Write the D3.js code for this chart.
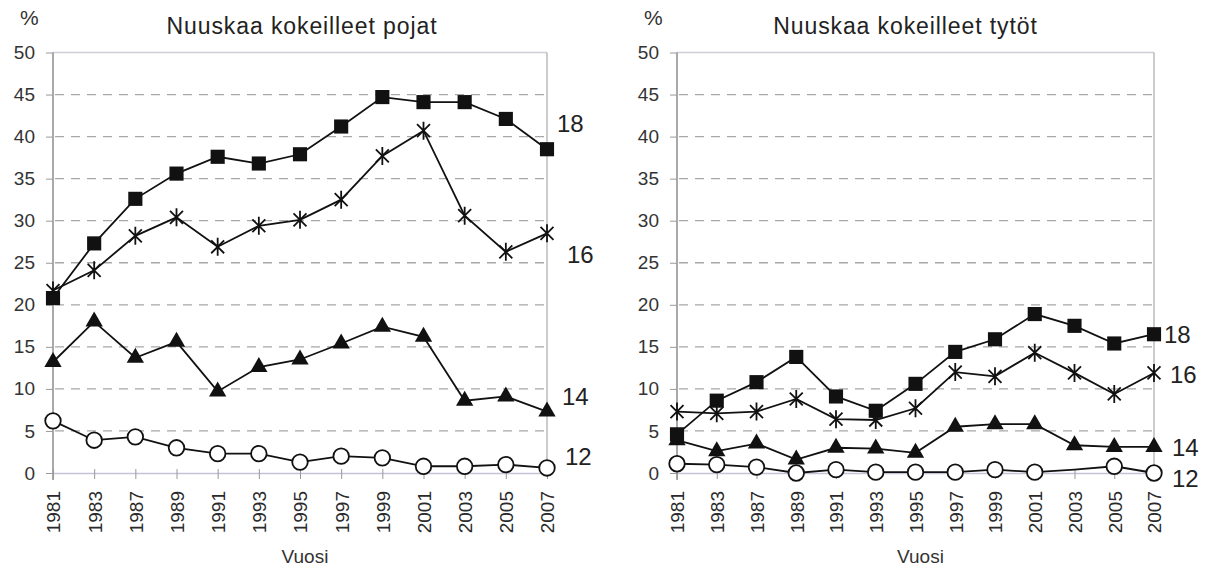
<!DOCTYPE html>
<html><head><meta charset="utf-8">
<script src="https://cdn.jsdelivr.net/npm/d3@7"></script>
<style>
body{margin:0;background:#fff;}
svg{display:block;font-family:"Liberation Sans",Arial,sans-serif;}
</style></head>
<body>
<svg id="chart" width="1212" height="574"></svg>
<script>
// ---- data ----
const years = ["1981","1983","1987","1989","1991","1993","1995","1997","1999","2001","2003","2005","2007"];
const yTicks = [0,5,10,15,20,25,30,35,40,45,50];
const seriesNames = ["18","16","14","12"];

const boys18 = [20.8,27.3,32.6,35.6,37.6,36.8,37.9,41.2,44.7,44.1,44.1,42.1,38.5];
const boys16 = [21.7,24.1,28.2,30.4,26.9,29.4,30.1,32.5,37.7,40.7,30.6,26.3,28.5];
const boys14 = [13.2,18.0,13.7,15.6,9.7,12.6,13.5,15.4,17.4,16.2,8.6,9.1,7.3];
const boys12 = [6.2,3.9,4.3,3.0,2.3,2.3,1.3,2.0,1.8,0.8,0.8,1.0,0.6];

const girls18 = [4.6,8.6,10.8,13.8,9.1,7.4,10.6,14.4,15.9,18.9,17.5,15.4,16.5];
const girls16 = [7.3,7.1,7.3,8.8,6.4,6.3,7.7,12.0,11.5,14.3,11.9,9.4,11.9];
const girls14 = [3.9,2.6,3.5,1.6,3.0,2.9,2.4,5.5,5.8,5.8,3.3,3.1,3.1];
const girls12 = [1.1,1.0,0.7,0.0,0.4,0.1,0.1,0.1,0.4,0.1,0.4,0.8,0.0];
const girls12NoMarker = ["2003"];

const panels = [
  {title:"Nuuskaa kokeilleet pojat", xAxisLabel:"Vuosi", unit:"%",
   series:[boys18,boys16,boys14,boys12], noMarker:[[],[],[],[]],
   x0:53, x1:547,
   labelPos:[[557,132],[567,263],[562,405],[565,465]]},
  {title:"Nuuskaa kokeilleet tytöt", xAxisLabel:"Vuosi", unit:"%",
   series:[girls18,girls16,girls14,girls12], noMarker:[[],[],[],girls12NoMarker],
   x0:677, x1:1154,
   labelPos:[[1164,343],[1170,383],[1172,456],[1172,487]]}
];

const svg = d3.select("#chart");
const yTop = 52.5, yBot = 473;
const markerTypes = ["square","star","triangle","circle"];

function starPath(s){
  const r = s/2, d = r*0.72;
  return `M0,${-r}L0,${r}M${-d},${-d}L${d},${d}M${-d},${d}L${d},${-d}`;
}

panels.forEach(p => {
  const g = svg.append("g");
  const x = d3.scalePoint().domain(years).range([p.x0, p.x1]).padding(0);
  const y = d3.scaleLinear().domain([0,50]).range([yBot, yTop]);

  // gridlines
  g.append("g").selectAll("line").data(yTicks.filter(t => t>0 && t<50)).join("line")
    .attr("x1", p.x0+2).attr("x2", p.x1)
    .attr("y1", d=>y(d)).attr("y2", d=>y(d))
    .attr("stroke","#a8a8a8").attr("stroke-width",1.3).attr("stroke-dasharray","9,7");
  // top border
  g.append("line").attr("x1",p.x0).attr("x2",p.x1).attr("y1",y(50)).attr("y2",y(50))
    .attr("stroke","#cfcfd8").attr("stroke-width",1.5);
  // right border
  g.append("line").attr("x1",p.x1).attr("x2",p.x1).attr("y1",y(50)).attr("y2",yBot)
    .attr("stroke","#b0b0b0").attr("stroke-width",1.3);

  // y axis
  const ya = g.append("g").attr("transform",`translate(${p.x0},0)`)
    .call(d3.axisLeft(y).tickValues(yTicks).tickSize(7).tickPadding(11).tickSizeOuter(0));
  ya.select(".domain").attr("stroke","#8c8c8c").attr("stroke-width",1.5)
    .attr("d", `M0,${y(50)}V${yBot+7}`);
  ya.selectAll(".tick line").attr("stroke","#9a9a9a");
  ya.selectAll(".tick text").attr("font-size",19).attr("fill","#333")
    .attr("font-family","Liberation Sans, Arial, sans-serif");

  // x axis
  const xa = g.append("g").attr("transform",`translate(0,${yBot})`)
    .call(d3.axisBottom(x).tickSize(6).tickSizeOuter(0));
  xa.select(".domain").attr("stroke","#c4c4d8").attr("stroke-width",1.5);
  xa.selectAll(".tick line").attr("stroke","#999").attr("y1",-4).attr("y2",6);
  xa.selectAll(".tick text")
    .attr("font-size",19).attr("fill","#2a2a2a").attr("font-family","Liberation Sans, Arial, sans-serif")
    .attr("text-anchor","end").attr("dy","0.36em")
    .attr("transform","translate(0,18) rotate(-90)")
    .attr("x",0).attr("y",0);

  // lines
  const line = d3.line().x((d,i)=>x(years[i])).y(d=>y(d));
  p.series.forEach((vals, si) => {
    g.append("path").datum(vals).attr("d", line)
      .attr("fill","none").attr("stroke","#111").attr("stroke-width",1.8);
  });
  // markers
  p.series.forEach((vals, si) => {
    const type = markerTypes[si];
    const pts = vals.map((v,i)=>({v, yr:years[i]})).filter(d => !p.noMarker[si].includes(d.yr));
    const mg = g.append("g");
    const sel = mg.selectAll("path").data(pts).join("path")
      .attr("transform", d=>`translate(${x(d.yr)},${y(d.v)})`);
    if (type==="square") sel.attr("d", d3.symbol(d3.symbolSquare, 200)()).attr("fill","#111");
    if (type==="triangle") sel.attr("d", d3.symbol(d3.symbolTriangle, 130)()).attr("fill","#111");
    if (type==="circle") sel.attr("d", d3.symbol(d3.symbolCircle, 190)()).attr("fill","#fff").attr("stroke","#111").attr("stroke-width",1.8);
    if (type==="star") sel.attr("d", starPath(18)).attr("fill","none").attr("stroke","#111").attr("stroke-width",1.8);
  });

  // series labels
  seriesNames.forEach((n, si) => {
    g.append("text").attr("x", p.labelPos[si][0]).attr("y", p.labelPos[si][1])
      .attr("font-size",24).attr("fill","#222").text(n);
  });

  // title, unit, axis label
  const cx = (p.x0+p.x1)/2;
  g.append("text").attr("x", cx + (p.x0 < 300 ? 2 : -10)).attr("y", 34).attr("text-anchor","middle")
    .attr("font-size",23).attr("letter-spacing",0.9).attr("fill","#222").text(p.title);
  g.append("text").attr("x", p.x0-33).attr("y", 25).attr("text-anchor","start")
    .attr("font-size",21).attr("fill","#333").text(p.unit);
  g.append("text").attr("x", cx+5).attr("y", 563).attr("text-anchor","middle")
    .attr("font-size",19).attr("fill","#333").text(p.xAxisLabel);
});
</script>
</body></html>
